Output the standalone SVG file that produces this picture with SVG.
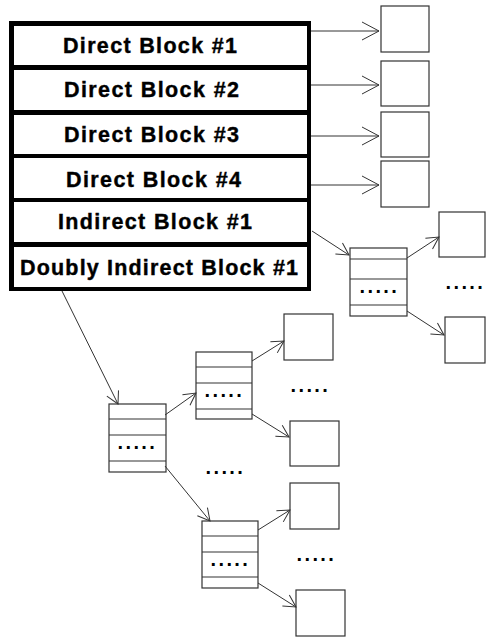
<svg xmlns="http://www.w3.org/2000/svg" width="486" height="637" viewBox="0 0 486 637">
<style>
.row{fill:#fff;stroke:none}
.lbl{font-family:"Liberation Sans",Arial,sans-serif;font-weight:bold;font-size:21.5px;fill:#000;stroke:#000;stroke-width:0.4;text-anchor:middle}
.box{fill:#fff;stroke:#333;stroke-width:1.2}
.sep{stroke:#333;stroke-width:1.2}
.dots{font-family:"Liberation Sans",Arial,sans-serif;font-weight:bold;font-size:20px;letter-spacing:2.4px;fill:#000}
.c{stroke:#333;stroke-width:1;fill:none}
.cb{marker-end:url(#big)}
.cs{marker-end:url(#small)}
</style>
<defs>
<marker id="big" markerUnits="userSpaceOnUse" markerWidth="40" markerHeight="40" refX="0" refY="0" viewBox="-20 -20 40 40" orient="auto" overflow="visible">
<path d="M-17,-9 L0,0 L-17,9" fill="none" stroke="#333" stroke-width="1"/>
</marker>
<marker id="small" markerUnits="userSpaceOnUse" markerWidth="40" markerHeight="40" refX="0" refY="0" viewBox="-20 -20 40 40" orient="auto" overflow="visible">
<path d="M-12,-6.5 L0,0 L-12,6.5" fill="none" stroke="#333" stroke-width="1"/>
</marker>
</defs>
<rect width="486" height="637" fill="#fff"/>
<g id="inode">
<rect x="9" y="21" width="302" height="270" fill="#000"/>
<g id="direct1"><rect class="row" x="14" y="26" width="293" height="39"/><text class="lbl" x="150" y="53" textLength="174" lengthAdjust="spacing">Direct Block #1</text></g>
<g id="direct2"><rect class="row" x="14" y="70" width="293" height="40"/><text class="lbl" x="151.5" y="97" textLength="175" lengthAdjust="spacing">Direct Block #2</text></g>
<g id="direct3"><rect class="row" x="14" y="115" width="293" height="39"/><text class="lbl" x="151.5" y="142" textLength="175" lengthAdjust="spacing">Direct Block #3</text></g>
<g id="direct4"><rect class="row" x="14" y="158" width="293" height="40"/><text class="lbl" x="153.5" y="187" textLength="175" lengthAdjust="spacing">Direct Block #4</text></g>
<g id="indirect1"><rect class="row" x="14" y="202" width="293" height="40"/><text class="lbl" x="155" y="229" textLength="194" lengthAdjust="spacing">Indirect Block #1</text></g>
<g id="doubly1"><rect class="row" x="14" y="247" width="293" height="40"/><text class="lbl" x="159" y="275" textLength="278" lengthAdjust="spacing">Doubly Indirect Block #1</text></g>
</g>
<g id="leaf-d1"><rect class="box" x="381" y="6" width="48" height="46"/></g>
<g id="leaf-d2"><rect class="box" x="381" y="61" width="48" height="45"/></g>
<g id="leaf-d3"><rect class="box" x="381" y="112" width="48" height="45"/></g>
<g id="leaf-d4"><rect class="box" x="381" y="161" width="48" height="46"/></g>
<g id="ind-index">
<rect class="box" x="350" y="248" width="57" height="68"/>
<line class="sep" x1="350" y1="259" x2="407" y2="259"/>
<line class="sep" x1="350" y1="279" x2="407" y2="279"/>
<line class="sep" x1="350" y1="305" x2="407" y2="305"/>
<text class="dots" x="359.5" y="292.5">.....</text>
</g>
<g id="ind-leaf1"><rect class="box" x="439" y="212" width="46" height="45"/></g>
<g id="ind-leaf2"><rect class="box" x="445" y="317" width="40" height="46"/></g>
<text class="dots" x="445.5" y="288.5">.....</text>
<g id="dbl-index">
<rect class="box" x="109" y="404" width="57" height="68"/>
<line class="sep" x1="109" y1="419" x2="166" y2="419"/>
<line class="sep" x1="109" y1="435" x2="166" y2="435"/>
<line class="sep" x1="109" y1="461" x2="166" y2="461"/>
<text class="dots" x="117.5" y="448.5">.....</text>
</g>
<g id="dbl-sub1">
<rect class="box" x="196" y="352" width="56" height="67"/>
<line class="sep" x1="196" y1="367" x2="252" y2="367"/>
<line class="sep" x1="196" y1="383" x2="252" y2="383"/>
<line class="sep" x1="196" y1="409" x2="252" y2="409"/>
<text class="dots" x="204.5" y="396.5">.....</text>
</g>
<g id="dbl-sub2">
<rect class="box" x="202" y="521" width="56" height="67"/>
<line class="sep" x1="202" y1="536" x2="258" y2="536"/>
<line class="sep" x1="202" y1="552" x2="258" y2="552"/>
<line class="sep" x1="202" y1="577" x2="258" y2="577"/>
<text class="dots" x="210.5" y="565.5">.....</text>
</g>
<g id="dbl-leaf1"><rect class="box" x="284" y="314" width="49" height="46"/></g>
<g id="dbl-leaf2"><rect class="box" x="290" y="421" width="49" height="45"/></g>
<g id="dbl-leaf3"><rect class="box" x="290" y="483" width="49" height="46"/></g>
<g id="dbl-leaf4"><rect class="box" x="296" y="590" width="49" height="46"/></g>
<text class="dots" x="290.5" y="391.5">.....</text>
<text class="dots" x="205.5" y="473.5">.....</text>
<text class="dots" x="296.5" y="560.5">.....</text>
<g id="connectors">
<line class="c cb" x1="311" y1="31" x2="379" y2="31"/>
<line class="c cb" x1="311" y1="85" x2="379" y2="85"/>
<line class="c cb" x1="311" y1="136" x2="379" y2="136"/>
<line class="c cb" x1="311" y1="185" x2="379" y2="185"/>
<line class="c cs" x1="312" y1="231" x2="349" y2="255"/>
<line class="c cs" x1="407" y1="258" x2="439" y2="237"/>
<line class="c cs" x1="407" y1="311" x2="444" y2="335"/>
<line class="c cs" x1="62" y1="291" x2="118" y2="404"/>
<line class="c cs" x1="165" y1="415" x2="196" y2="393"/>
<line class="c cs" x1="252" y1="361" x2="284" y2="341"/>
<line class="c cs" x1="252" y1="414" x2="289" y2="437"/>
<line class="c cs" x1="165" y1="466" x2="210" y2="521"/>
<line class="c cs" x1="258" y1="530" x2="290" y2="510"/>
<line class="c cs" x1="258" y1="583" x2="296" y2="607"/>
</g>
</svg>
